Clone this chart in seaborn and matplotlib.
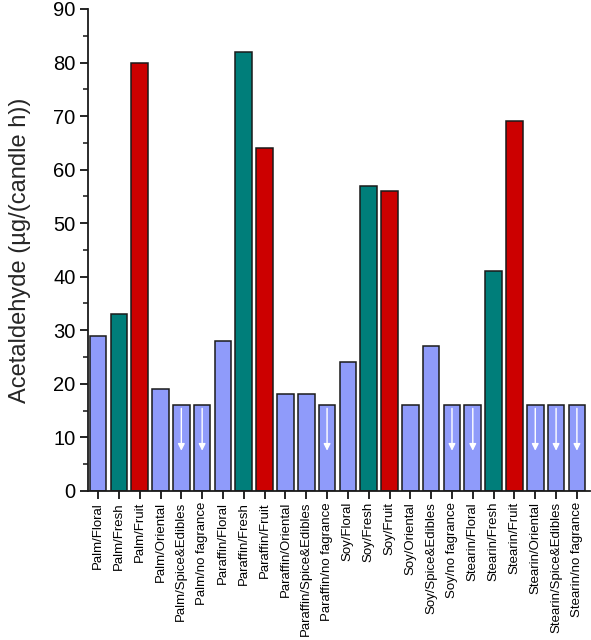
import matplotlib
matplotlib.use("Agg")
import matplotlib.pyplot as plt
import seaborn as sns
import pandas as pd
from matplotlib.ticker import MultipleLocator

categories = ["Palm/Floral", "Palm/Fresh", "Palm/Fruit", "Palm/Oriental", "Palm/Spice&Edibles",
              "Palm/no fagrance", "Paraffin/Floral", "Paraffin/Fresh", "Paraffin/Fruit",
              "Paraffin/Oriental", "Paraffin/Spice&Edibles", "Paraffin/no fagrance",
              "Soy/Floral", "Soy/Fresh", "Soy/Fruit", "Soy/Oriental", "Soy/Spice&Edibles",
              "Soy/no fagrance", "Stearin/Floral", "Stearin/Fresh", "Stearin/Fruit",
              "Stearin/Oriental", "Stearin/Spice&Edibles", "Stearin/no fagrance"]
values = [29, 33, 80, 19, 16, 16, 28, 82, 64, 18, 18, 16,
          24, 57, 56, 16, 27, 16, 16, 41, 69, 16, 16, 16]
below_limit = [False, False, False, False, True, True, False, False, False, False, False, True,
               False, False, False, False, False, True, True, False, False, True, True, True]
fragrance_group = ["other", "fresh", "fruit", "other", "other", "other",
                   "other", "fresh", "fruit", "other", "other", "other",
                   "other", "fresh", "fruit", "other", "other", "other",
                   "other", "fresh", "fruit", "other", "other", "other"]

group_colors = {"other": "#8F9BFA", "fresh": "#007E7A", "fruit": "#CC0000"}

df = pd.DataFrame({"cat": categories, "val": values, "grp": fragrance_group})

sns.set_theme(style="ticks")
plt.rcParams["font.family"] = ["Liberation Sans", "DejaVu Sans"]

fig = plt.figure(figsize=(5.91, 6.4), dpi=100)
ax = fig.add_axes([0.149, 0.233, 0.849, 0.753])

palette = [group_colors[g] for g in fragrance_group]
sns.barplot(data=df, x="cat", y="val", hue="cat", palette=palette, legend=False,
            width=0.8, edgecolor="#1a1a1a", linewidth=1.1, saturation=1, ax=ax)

for i, (v, lim) in enumerate(zip(values, below_limit)):
    if lim:
        ax.annotate("", xy=(i, v - 8.5), xytext=(i, v - 0.6),
                    arrowprops=dict(arrowstyle="-|>", color="white", lw=1.0,
                                    mutation_scale=10, shrinkA=0, shrinkB=0))

ax.set_ylim(0, 90)
ax.set_xlim(-0.48, 23.62)
ax.yaxis.set_major_locator(MultipleLocator(10))
ax.yaxis.set_minor_locator(MultipleLocator(5))
ax.tick_params(axis="y", which="major", direction="out", length=6, width=1.2, labelsize=14.5, colors="black", pad=3)
ax.tick_params(axis="y", which="minor", direction="out", length=3.5, width=1.2)
ax.tick_params(axis="x", which="major", direction="out", length=6, width=1.2, labelsize=9.5, colors="black", pad=2)
ax.set_xticks(range(len(categories)))
ax.set_xticklabels(categories, rotation=90)
ax.set_xlabel("")
ax.set_ylabel("Acetaldehyde (µg/(candle h))", fontsize=17, labelpad=16)
sns.despine(ax=ax)
for s in ["left", "bottom"]:
    ax.spines[s].set_linewidth(1.3)
    ax.spines[s].set_color("#1a1a1a")

fig.savefig("out.png", dpi=100)
